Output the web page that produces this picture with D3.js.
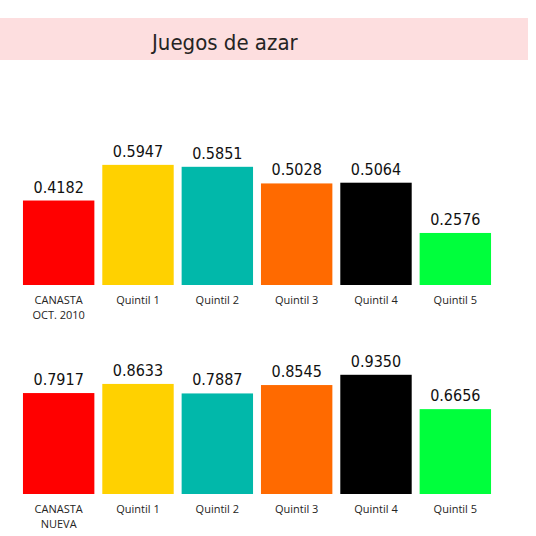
<!DOCTYPE html>
<html><head><meta charset="utf-8">
<script src="https://cdn.jsdelivr.net/npm/d3@7"></script>
<style>body{margin:0;background:#fff}</style>
</head><body><div id="chart"></div>
<script>
const categoriesTop = ['CANASTA\nOCT. 2010', 'Quintil 1', 'Quintil 2', 'Quintil 3', 'Quintil 4', 'Quintil 5'];
const categoriesBottom = ['CANASTA\nNUEVA', 'Quintil 1', 'Quintil 2', 'Quintil 3', 'Quintil 4', 'Quintil 5'];
const valuesTop = [0.4182, 0.5947, 0.5851, 0.5028, 0.5064, 0.2576];
const valuesBottom = [0.7917, 0.8633, 0.7887, 0.8545, 0.9350, 0.6656];
const colors = ['#FF0000', '#FFD100', '#01B8AA', '#FF6A00', '#000000', '#00FF3C'];

const svg = d3.select('#chart').append('svg').attr('width', 536).attr('height', 536);

// título
svg.append('rect').attr('x', 0).attr('y', 18).attr('width', 528).attr('height', 42).attr('fill', '#FDDEDF');
svg.append('text').attr('x', 152).attr('y', 50).text('Juegos de azar')
  .attr('font-family', 'DejaVu Sans Condensed, DejaVu Sans').attr('font-size', 22).attr('fill', '#252423');

function panel(cats, vals, baseY, pxPerUnit) {
  const x = d3.scaleBand().domain(d3.range(cats.length)).range([19, 495]).paddingInner(0.1).paddingOuter(0.05);
  const y = d3.scaleLinear().domain([0, 1]).range([baseY, baseY - pxPerUnit]);
  const g = svg.append('g');
  g.selectAll('rect').data(vals).enter().append('rect')
    .attr('x', (d, i) => x(i)).attr('width', x.bandwidth())
    .attr('y', d => y(d)).attr('height', d => baseY - y(d))
    .attr('fill', (d, i) => colors[i]);
  g.selectAll('text.v').data(vals).enter().append('text').attr('class', 'v')
    .attr('x', (d, i) => x(i) + x.bandwidth() / 2).attr('y', d => y(d) - 8)
    .attr('text-anchor', 'middle').attr('font-family', 'DejaVu Sans Condensed, DejaVu Sans')
    .attr('font-size', 16).attr('fill', '#111').text(d => d.toFixed(4));
  cats.forEach((c, i) => {
    c.split('\n').forEach((line, j) => {
      g.append('text').attr('x', x(i) + x.bandwidth() / 2).attr('y', baseY + 19 + j * 15)
        .attr('text-anchor', 'middle').attr('font-family', 'Open Sans').attr('font-size', 11)
        .attr('fill', '#252423').text(line);
    });
  });
}
panel(categoriesTop, valuesTop, 285, 202);
panel(categoriesBottom, valuesBottom, 494, 127.5);
</script></body></html>
